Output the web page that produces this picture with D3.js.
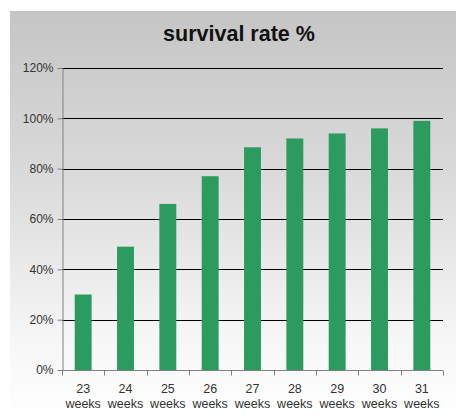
<!DOCTYPE html>
<html><head><meta charset="utf-8">
<script src="https://cdn.jsdelivr.net/npm/d3@7"></script>
<style>html,body{margin:0;padding:0;background:#fff;}svg{display:block;}</style>
</head><body>
<script>
const categories = ["23", "24", "25", "26", "27", "28", "29", "30", "31"];
const unitLabel = "weeks";
const survival = [30, 49, 66, 77, 88.5, 92, 94, 96, 99];
const yTicks = [0, 20, 40, 60, 80, 100, 120];
const title = "survival rate %";

const W = 456, H = 418;
const m = {left: 62, right: 13, top: 68, bottom: 48};
const svg = d3.select("body").append("svg").attr("width", W).attr("height", H);

const defs = svg.append("defs");
const g = defs.append("linearGradient").attr("id", "bg").attr("x1", 0).attr("y1", 0).attr("x2", 0).attr("y2", 1);
g.append("stop").attr("offset", "0%").attr("stop-color", "#c5c5c5");
g.append("stop").attr("offset", "40%").attr("stop-color", "#dadada");
g.append("stop").attr("offset", "80%").attr("stop-color", "#f6f6f6");
g.append("stop").attr("offset", "100%").attr("stop-color", "#ffffff");

svg.append("rect").attr("x", 10).attr("y", 11).attr("width", W - 10).attr("height", H - 11).attr("fill", "url(#bg)");

svg.append("text").attr("x", 239).attr("y", 41).attr("text-anchor", "middle")
  .attr("font-family", "Liberation Sans, Arial, sans-serif").attr("font-weight", "bold")
  .attr("font-size", 21.5).attr("fill", "#111").text(title);

const x = d3.scaleBand().domain(categories).range([m.left, W - m.right]).paddingInner(0.6).paddingOuter(0.3);
const y = d3.scaleLinear().domain([0, 120]).range([H - m.bottom, m.top]);

// gridlines
svg.append("g").selectAll("line").data(yTicks.filter(d => d > 0)).join("line")
  .attr("x1", m.left).attr("x2", W - m.right)
  .attr("y1", d => Math.round(y(d)) + 0.5).attr("y2", d => Math.round(y(d)) + 0.5)
  .attr("stroke", "#000").attr("stroke-width", 1);

// bars
svg.append("g").selectAll("rect").data(survival).join("rect")
  .attr("x", (d, i) => x(categories[i]))
  .attr("width", x.bandwidth())
  .attr("y", d => y(d))
  .attr("height", d => y(0) - y(d))
  .attr("fill", "#2b9b60");

// y axis
const yAxis = d3.axisLeft(y).tickValues(yTicks).tickFormat(d => d + "%").tickSize(5).tickSizeOuter(0);
const ya = svg.append("g").attr("transform", `translate(${m.left + 0.5},0)`).call(yAxis);
ya.selectAll(".tick line").attr("stroke", "#808080");
ya.select(".domain").attr("stroke", "#808080");
ya.selectAll("text").attr("font-family", "Liberation Sans, Arial, sans-serif").attr("font-size", 12).attr("fill", "#333").attr("x", -9);

// x axis
const xa = svg.append("g").attr("transform", `translate(0,${Math.round(y(0)) + 0.5})`);
xa.append("line").attr("x1", m.left).attr("x2", W - m.right).attr("stroke", "#808080");
const step = x.step();
const bounds = d3.range(categories.length + 1).map(i => x(categories[0]) - x.paddingInner() * step / 2 + i * step);
xa.selectAll("line.t").data(bounds).join("line").attr("class", "t")
  .attr("x1", d => Math.round(d) + 0.5).attr("x2", d => Math.round(d) + 0.5)
  .attr("y1", 0).attr("y2", 5).attr("stroke", "#808080");
const lab = xa.selectAll("text").data(categories).join("text")
  .attr("text-anchor", "middle")
  .attr("font-family", "Liberation Sans, Arial, sans-serif").attr("font-size", 12.5).attr("fill", "#333");
lab.append("tspan").attr("x", d => x(d) + x.bandwidth() / 2).attr("y", 22).text(d => d);
lab.append("tspan").attr("x", d => x(d) + x.bandwidth() / 2).attr("y", 37).text(unitLabel);
</script>
</body></html>
